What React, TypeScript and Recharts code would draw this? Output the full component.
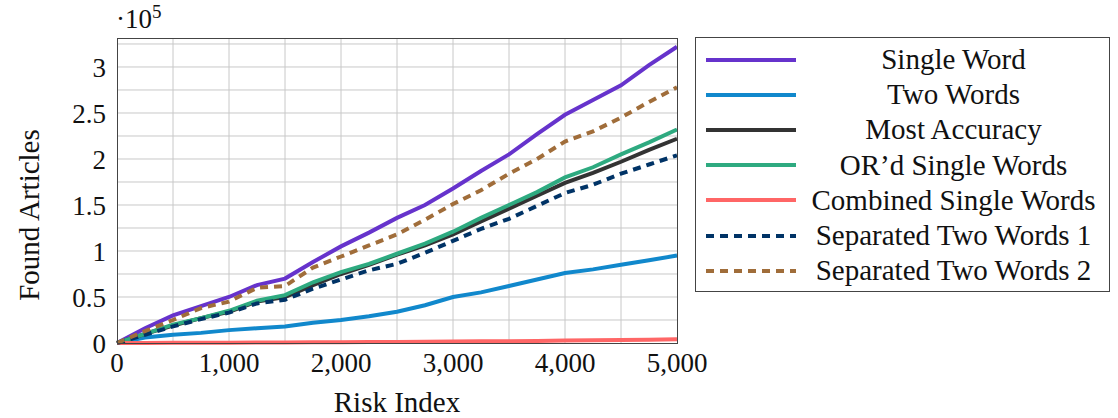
import { LineChart, Line, XAxis, YAxis, CartesianGrid } from 'recharts';

// risk index sample points
const riskIndex = [0, 250, 500, 750, 1000, 1250, 1500, 1750, 2000, 2250, 2500, 2750, 3000, 3250, 3500, 3750, 4000, 4250, 4500, 4750, 5000];

// found articles, in units of 10^5
const singleWord = [0, 0.16, 0.30, 0.40, 0.50, 0.63, 0.70, 0.88, 1.05, 1.20, 1.36, 1.50, 1.68, 1.87, 2.05, 2.27, 2.48, 2.64, 2.80, 3.02, 3.22];
const twoWords = [0, 0.06, 0.09, 0.11, 0.14, 0.16, 0.18, 0.22, 0.25, 0.29, 0.34, 0.41, 0.50, 0.55, 0.62, 0.69, 0.76, 0.80, 0.85, 0.90, 0.95];
const mostAccuracy = [0, 0.10, 0.19, 0.27, 0.34, 0.45, 0.50, 0.63, 0.75, 0.85, 0.96, 1.06, 1.18, 1.32, 1.46, 1.60, 1.74, 1.85, 1.97, 2.10, 2.22];
const orSingleWords = [0, 0.10, 0.20, 0.27, 0.35, 0.46, 0.52, 0.66, 0.77, 0.86, 0.97, 1.08, 1.21, 1.36, 1.50, 1.64, 1.80, 1.91, 2.05, 2.18, 2.32];
const combinedSingle = [0, 0.001, 0.002, 0.003, 0.004, 0.005, 0.006, 0.007, 0.008, 0.010, 0.012, 0.014, 0.016, 0.018, 0.020, 0.023, 0.026, 0.029, 0.032, 0.036, 0.040];
const separatedTwo1 = [0, 0.09, 0.18, 0.26, 0.33, 0.43, 0.47, 0.59, 0.69, 0.79, 0.86, 0.98, 1.11, 1.24, 1.35, 1.49, 1.63, 1.72, 1.84, 1.94, 2.04];
const separatedTwo2 = [0, 0.13, 0.25, 0.38, 0.45, 0.60, 0.62, 0.82, 0.94, 1.06, 1.18, 1.34, 1.51, 1.66, 1.84, 2.00, 2.19, 2.30, 2.45, 2.62, 2.78];

const xTicks = [0, 1000, 2000, 3000, 4000, 5000];
const yTicks = [0, 0.5, 1, 1.5, 2, 2.5, 3];
const xGrid = [500, 1000, 1500, 2000, 2500, 3000, 3500, 4000, 4500];
const yGrid = [0.25, 0.5, 0.75, 1, 1.25, 1.5, 1.75, 2, 2.25, 2.5, 2.75, 3, 3.25];

const series = [
  { key: 'singleWord', name: 'Single Word', color: '#6633CC', values: singleWord, dash: undefined },
  { key: 'twoWords', name: 'Two Words', color: '#1188CC', values: twoWords, dash: undefined },
  { key: 'mostAccuracy', name: 'Most Accuracy', color: '#333333', values: mostAccuracy, dash: undefined },
  { key: 'orSingleWords', name: 'OR\u2019d Single Words', color: '#2EAA80', values: orSingleWords, dash: undefined },
  { key: 'combinedSingle', name: 'Combined Single Words', color: '#FF6666', values: combinedSingle, dash: undefined },
  { key: 'separatedTwo1', name: 'Separated Two Words 1', color: '#003366', values: separatedTwo1, dash: '8 6' },
  { key: 'separatedTwo2', name: 'Separated Two Words 2', color: '#A06D3A', values: separatedTwo2, dash: '8 6' },
];

const data = riskIndex.map((x, i) => {
  const row: Record<string, number> = { x };
  series.forEach(s => { row[s.key] = s.values[i]; });
  return row;
});

const FONT = '"Liberation Serif", "DejaVu Serif", serif';

function LegendBox() {
  return (
    <div style={{
      position: 'absolute', left: 695, top: 37, width: 415, height: 255,
      border: '1px solid #444', background: 'white', boxSizing: 'border-box',
      fontFamily: FONT, fontSize: 29, color: '#111', paddingTop: 4,
    }}>
      {series.map(s => (
        <div key={s.key} style={{ display: 'flex', alignItems: 'center', height: 35.2 }}>
          <svg width={104} height={10} style={{ flex: 'none' }}>
            <line x1={10} y1={5} x2={100} y2={5} stroke={s.color} strokeWidth={4} strokeDasharray={s.dash} />
          </svg>
          <div style={{ flex: 1, textAlign: 'center', whiteSpace: 'nowrap', paddingRight: 2 }}>{s.name}</div>
        </div>
      ))}
    </div>
  );
}

export default function App() {
  return (
    <div style={{ position: 'absolute', left: 0, top: 0, width: 1118, height: 418, background: 'white', fontFamily: FONT }}>
      <LineChart width={1118} height={418} data={data} margin={{ top: 38, right: 441, bottom: 35, left: 57 }}>
        <CartesianGrid stroke="#c8c8c8" strokeWidth={1} horizontalValues={yGrid} verticalValues={xGrid} />
        <XAxis
          dataKey="x"
          type="number"
          domain={[0, 5000]}
          ticks={xTicks}
          height={40}
          tickSize={0}
          tickMargin={10}
          axisLine={false}
          interval={0}
          tick={{ fontSize: 27, fill: '#111', fontFamily: FONT }}
          tickFormatter={(v: number) => v.toLocaleString('en-US')}
        />
        <YAxis
          type="number"
          domain={[0, 3.315]}
          ticks={yTicks}
          width={60}
          tickSize={0}
          tickMargin={11}
          axisLine={false}
          interval={0}
          tick={{ fontSize: 27, fill: '#111', fontFamily: FONT }}
          tickFormatter={(v: number) => String(v)}
        />
        {series.map(s => (
          <Line
            key={s.key}
            type="linear"
            dataKey={s.key}
            name={s.name}
            stroke={s.color}
            strokeWidth={4}
            strokeDasharray={s.dash}
            dot={false}
            isAnimationActive={false}
          />
        ))}
      </LineChart>
      <div style={{
        position: 'absolute', left: 117, top: 38, width: 561, height: 306,
        border: '1px solid #444', boxSizing: 'border-box', pointerEvents: 'none',
      }} />
      <LegendBox />
      <div style={{ position: 'absolute', left: 116, top: 27, fontSize: 27, color: '#111', lineHeight: 1, transform: 'translateY(-80%)', whiteSpace: 'nowrap' }}>
        {'\u00b710'}<span style={{ fontSize: 19, verticalAlign: 10 }}>5</span>
      </div>
      <div style={{
        position: 'absolute', left: 29, top: 215, fontSize: 29, color: '#111', whiteSpace: 'nowrap', lineHeight: 1,
        transform: 'translate(-50%, -50%) rotate(-90deg)',
      }}>
        Found Articles
      </div>
      <div style={{
        position: 'absolute', left: 397, top: 402, fontSize: 29, color: '#111', whiteSpace: 'nowrap', lineHeight: 1,
        transform: 'translate(-50%, -50%)',
      }}>
        Risk Index
      </div>
    </div>
  );
}
